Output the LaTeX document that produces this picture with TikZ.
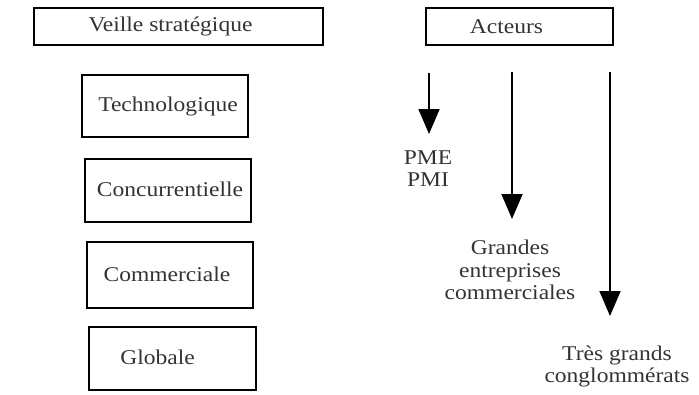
\documentclass[tikz,border=0pt]{standalone}
\usepackage{fontspec}
\setmainfont{Liberation Serif}[FakeStretch=1.12]
\usetikzlibrary{arrows.meta}
\tikzset{
	cadre/.style={draw, line width=1.7pt, inner sep=0pt},
	texte/.style={font=\fontsize{21}{22.5}\selectfont, text=black!80, align=center, inner sep=0pt},
	fleche/.style={line width=1.7pt, -{Triangle[width=21pt,length=25pt]}}
}
\begin{document}
\begin{tikzpicture}[x=1pt, y=-1pt]
	\useasboundingbox (0,0) rectangle (699,394);
	% Veille strat\'egique
		\node[cadre, minimum width=289pt, minimum height=37pt] (veille) at (178.5,26.5) {};
		\node[texte] (veilleT) at ([xshift=-8pt]veille.center) {Veille stratégique};
	% Types de veille
		\node[cadre, minimum width=166pt, minimum height=62pt] (techno) at (165,106) {};
		\node[texte] (technoT) at ([xshift=3pt]techno.center) {Technologique};
		\node[cadre, minimum width=166pt, minimum height=63pt] (concu) at (168,190.5) {};
		\node[texte] (concuT) at ([xshift=2pt,yshift=1pt]concu.center) {Concurrentielle};
		\node[cadre, minimum width=166pt, minimum height=66pt] (comm) at (170,275) {};
		\node[texte] (commT) at ([xshift=-3pt,yshift=1pt]comm.center) {Commerciale};
		\node[cadre, minimum width=167pt, minimum height=63pt] (glob) at (172.5,358.5) {};
		\node[texte] (globT) at ([xshift=-15pt,yshift=1pt]glob.center) {Globale};
	% Acteurs
		\node[cadre, minimum width=187pt, minimum height=37pt] (acteurs) at (519.5,26.5) {};
		\node[texte] (acteursT) at ([xshift=-13pt]acteurs.center) {Acteurs};
	% Fl\`eches et tailles
		\coordinate (d1) at (429,73);  \coordinate (f1) at (429,134);
		\coordinate (d2) at (512,72);  \coordinate (f2) at (512,219);
		\coordinate (d3) at (610,72);  \coordinate (f3) at (610,316);
		\draw[fleche] (d1) -- (f1);
		\draw[fleche] (d2) -- (f2);
		\draw[fleche] (d3) -- (f3);
		\node[texte] (pme) at (428,168.5) {PME\\PMI};
		\node[texte] (grandes) at (510,270) {Grandes\\entreprises\\commerciales};
		\node[texte] (tres) at (617,366.5) {Très grands\\conglommérats};
\end{tikzpicture}
\end{document}
